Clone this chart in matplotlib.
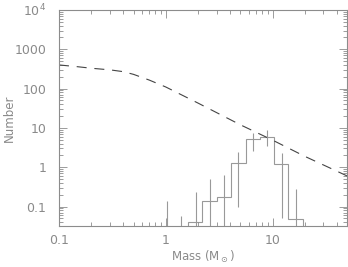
import numpy as np
import matplotlib
matplotlib.use('Agg')
import matplotlib.pyplot as plt
from matplotlib.ticker import LogLocator, FixedLocator, FixedFormatter, NullFormatter

# model mass function (dashed)
imf_mass = [0.1, 0.15, 0.2, 0.3, 0.4, 0.5, 0.7, 1.0, 2.0, 5.0, 10.0, 20.0, 50.0]
imf_num = [400, 360, 330, 300, 270, 230, 165, 110, 43, 12, 4.9, 1.9, 0.6]

# observed histogram
bin_edges = [1.61, 2.2, 3.0, 4.1, 5.6, 7.6, 10.3, 14.1, 19.3]
bin_counts = [0.04, 0.135, 0.18, 1.25, 5.1, 6.0, 1.2, 0.047]

# error bars at bin centres (first two bins are empty)
err_mass = [1.03, 1.4, 1.9, 2.6, 3.5, 4.8, 6.5, 8.9, 12.2, 16.6]
err_val = [0.0, 0.0, 0.04, 0.135, 0.18, 1.25, 5.1, 6.0, 1.2, 0.047]
err_size = [0.14, 0.058, 0.2, 0.38, 0.45, 1.15, 2.5, 2.6, 1.15, 0.23]

ymin, ymax = 0.032, 1e4
grey = '#8c8c8c'
txt = '#8a8a8a'

fig = plt.figure(figsize=(3.48, 2.67), dpi=100)
ax = fig.add_axes([0.1695, 0.1536, 0.828, 0.809])

ax.plot(imf_mass, imf_num, color='#444444', lw=0.8, dashes=(9, 7))
ax.stairs(bin_counts, bin_edges, baseline=1e-3, color='#999999', lw=0.8)

lo = np.maximum(np.array(err_val) - np.array(err_size), 1e-3)
hi = np.array(err_val) + np.array(err_size)
ax.vlines(err_mass, lo, hi, color='#999999', lw=0.8)

ax.set_xscale('log')
ax.set_yscale('log')
ax.set_xlim(0.1, 50)
ax.set_ylim(ymin, ymax)

ax.xaxis.set_major_locator(FixedLocator([0.1, 1, 10]))
ax.xaxis.set_major_formatter(FixedFormatter(['0.1', '1', '10']))
ax.xaxis.set_minor_locator(LogLocator(base=10, subs=np.arange(2, 10), numticks=20))
ax.xaxis.set_minor_formatter(NullFormatter())
ax.yaxis.set_major_locator(FixedLocator([0.1, 1, 10, 100, 1000, 1e4]))
ax.yaxis.set_major_formatter(FixedFormatter(['0.1', '1', '10', '100', '1000', r'10$^4$']))
ax.yaxis.set_minor_locator(LogLocator(base=10, subs=np.arange(2, 10), numticks=20))
ax.yaxis.set_minor_formatter(NullFormatter())

ax.tick_params(which='both', direction='in', top=True, right=True, color=grey,
               labelcolor=txt, labelsize=9)
ax.tick_params(which='major', length=6, width=0.6)
ax.tick_params(which='minor', length=3, width=0.6)
ax.tick_params(axis='x', pad=6)
ax.tick_params(axis='y', pad=9)
for s in ax.spines.values():
    s.set_color(grey)
    s.set_linewidth(0.8)

ax.set_xlabel(r'Mass (M$_\odot$)', color=txt, fontsize=8.5)
ax.set_ylabel('Number', color=txt, fontsize=8.5)
ax.xaxis.set_label_coords(0.5, -0.105, transform=ax.transAxes)
ax.yaxis.set_label_coords(-0.15, 0.5, transform=ax.transAxes)

fig.savefig('out.png', dpi=100)
